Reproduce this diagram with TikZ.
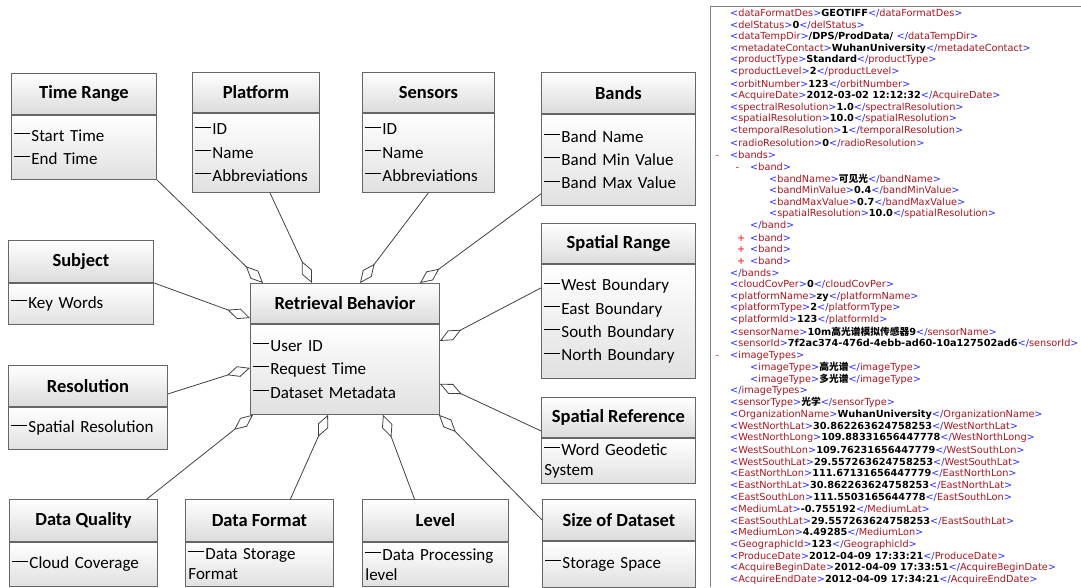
\documentclass[tikz,border=0pt]{standalone}
\usepackage{fontspec}
\setmainfont{Carlito}
\newfontfamily\xmlfont{DejaVu Sans}
\newfontfamily\cjk{Noto Sans CJK SC}
\usetikzlibrary{arrows.meta}
\definecolor{xblue}{RGB}{40,40,255}
\definecolor{xred}{RGB}{170,20,30}
\definecolor{edge}{RGB}{64,64,64}
\tikzset{
  head/.style={draw=black!60, line width=0.9pt, top color=white, bottom color=black!14, inner sep=0pt, anchor=north west, font=\fontsize{18.5}{22}\selectfont\bfseries},
  body/.style={draw=black!60, line width=0.9pt, top color=white, bottom color=black!12, inner xsep=3pt, inner ysep=0pt, anchor=north, align=left, font=\fontsize{17}{23.3}\selectfont},
  agg/.style={draw=edge, line width=0.8pt, -{Diamond[open, length=24pt, width=11pt]}},
  xline/.style={anchor=west, inner sep=0pt, font=\xmlfont\fontsize{9.75}{11}\selectfont},
}
\newcommand\itm{\rule[7.5pt]{16pt}{0.8pt}\hspace{1pt}}
\newcommand\umlclass[8]{%
  \pgfmathsetmacro\tw{#4-6}
  \node[head, minimum width=#4pt, minimum height=#5pt] (#1) at (#2,#3) {#7};
  \node[body, minimum width=#4pt, minimum height=#6pt, text width=\tw pt] (#1-b) at (#1.south) {#8};
}
\newcommand\xopen[1]{\textcolor{xblue}{<}\textcolor{xred}{#1}\textcolor{xblue}{>}}
\newcommand\xclose[1]{\textcolor{xblue}{</}\textcolor{xred}{#1}\textcolor{xblue}{>}}
\newcommand\xtag[2]{\xopen{#1}\textbf{#2}\xclose{#1}}
\newcommand\xm{\llap{\textcolor{red}{-}\hspace{11pt}}}
\newcommand\xp{\llap{\textcolor{red}{+}\hspace{5pt}}}
\begin{document}
\begin{tikzpicture}[x=1pt, y=-1pt]
  \useasboundingbox (0,0) rectangle (1081,587);
  % classes
  \umlclass{tr}{11}{73}{145}{41}{64}{Time Range}{\itm Start Time\\\itm End Time}
  \umlclass{pf}{192}{72}{127}{40}{79}{Platform}{\itm ID\\\itm Name\\\itm Abbreviations}
  \umlclass{sn}{362}{72}{132}{40}{79}{Sensors}{\itm ID\\\itm Name\\\itm Abbreviations}
  \umlclass{bd}{541}{72}{154}{41}{91}{Bands}{\itm Band Name\\\itm Band Min Value\\\itm Band Max Value}
  \umlclass{sj}{8}{240}{145}{42}{41}{Subject}{\itm Key Words}
  \umlclass{rs}{8}{365}{159}{41}{42}{Resolution}{\itm Spatial Resolution}
  \umlclass{rb}{250}{283}{189}{40}{90}{Retrieval Behavior}{\itm User ID\\\itm Request Time\\\itm Dataset Metadata}
  \umlclass{sr}{541}{223}{154}{40}{114}{Spatial Range}{\itm West Boundary\\\itm East Boundary\\\itm South Boundary\\\itm North Boundary}
  \umlclass{sf}{541}{397}{154}{40}{45}{Spatial Reference}{\itm Word Geodetic\\[-3pt]System}
  \umlclass{dq}{9}{499}{148}{42}{44}{Data Quality}{\itm Cloud Coverage}
  \umlclass{df}{185}{499}{148}{42}{44}{Data Format}{\itm Data Storage\\[-3pt]Format}
  \umlclass{lv}{362}{499}{146}{42}{44}{Level}{\itm Data Processing\\[-3pt]level}
  \umlclass{sd}{542}{499}{153}{41}{46}{Size of Dataset}{\itm Storage Space}
  % aggregations
  \draw[agg] (tr-b.south east) -- ([xshift=13pt]rb.north west);
  \draw[agg] ([xshift=14pt]pf-b.south) -- ([xshift=62pt]rb.north west);
  \draw[agg] (sn-b.south) -- ([xshift=110pt]rb.north west);
  \draw[agg] ([yshift=12pt]bd-b.south west) -- ([xshift=170pt]rb.north west);
  \draw[agg] (sj.south east) -- ([yshift=-35pt]rb.north west);
  \draw[agg] ([yshift=-8pt]rs.east) -- ([yshift=-44pt]rb-b.north west);
  \draw[agg] ([yshift=-24pt]sr-b.north west) -- ([yshift=-17pt]rb-b.north east);
  \draw[agg] ([yshift=7pt]sf.south west) -- ([yshift=-60pt]rb-b.north east);
  \draw[agg] ([xshift=-11pt]dq.north east) -- ([xshift=3pt]rb-b.south west);
  \draw[agg] ([xshift=31pt]df.north) -- ([xshift=78pt]rb-b.south west);
  \draw[agg] ([xshift=-21pt]lv.north) -- ([xshift=133pt]rb-b.south west);
  \draw[agg] (sd.west) -- ([xshift=-1pt]rb-b.south east);
  % xml listing
  \draw[black!50, line width=0.9pt] (710,587) -- (710,6) -- (1081,6);
  \foreach \ind/\txt [count=\i] in {
    730/{\xtag{dataFormatDes}{GEOTIFF}},
    730/{\xtag{delStatus}{0}},
    730/{\xtag{dataTempDir}{/DPS/ProdData/ }},
    730/{\xtag{metadateContact}{WuhanUniversity}},
    730/{\xtag{productType}{Standard}},
    730/{\xtag{productLevel}{2}},
    730/{\xtag{orbitNumber}{123}},
    730/{\xtag{AcquireDate}{2012-03-02 12:12:32}},
    730/{\xtag{spectralResolution}{1.0}},
    730/{\xtag{spatialResolution}{10.0}},
    730/{\xtag{temporalResolution}{1}},
    730/{\xtag{radioResolution}{0}},
    730/{\xm\xopen{bands}},
    750/{\xm\xopen{band}},
    769/{\xtag{bandName}{\cjk 可见光}},
    769/{\xtag{bandMinValue}{0.4}},
    769/{\xtag{bandMaxValue}{0.7}},
    769/{\xtag{spatialResolution}{10.0}},
    750/{\xclose{band}},
    750/{\xp\xopen{band}},
    750/{\xp\xopen{band}},
    750/{\xp\xopen{band}},
    730/{\xclose{bands}},
    730/{\xtag{cloudCovPer}{0}},
    730/{\xtag{platformName}{zy}},
    730/{\xtag{platformType}{2}},
    730/{\xtag{platformId}{123}},
    730/{\xtag{sensorName}{10m{\cjk 高光谱模拟传感器}9}},
    730/{\xtag{sensorId}{7f2ac374-476d-4ebb-ad60-10a127502ad6}},
    730/{\xm\xopen{imageTypes}},
    750/{\xtag{imageType}{\cjk 高光谱}},
    750/{\xtag{imageType}{\cjk 多光谱}},
    730/{\xclose{imageTypes}},
    730/{\xtag{sensorType}{\cjk 光学}},
    730/{\xtag{OrganizationName}{WuhanUniversity}},
    730/{\xtag{WestNorthLat}{30.862263624758253}},
    730/{\xtag{WestNorthLong}{109.88331656447778}},
    730/{\xtag{WestSouthLon}{109.76231656447779}},
    730/{\xtag{WestSouthLat}{29.557263624758253}},
    730/{\xtag{EastNorthLon}{111.67131656447779}},
    730/{\xtag{EastNorthLat}{30.862263624758253}},
    730/{\xtag{EastSouthLon}{111.5503165644778}},
    730/{\xtag{MediumLat}{-0.755192}},
    730/{\xtag{EastSouthLat}{29.557263624758253}},
    730/{\xtag{MediumLon}{4.49285}},
    730/{\xtag{GeographicId}{123}},
    730/{\xtag{ProduceDate}{2012-04-09 17:33:21}},
    730/{\xtag{AcquireBeginDate}{2012-04-09 17:33:51}},
    730/{\xtag{AcquireEndDate}{2012-04-09 17:34:21}}}
    \node[xline] (x\i) at (\ind, {13+(\i-1)*11.81}) {\txt};
\end{tikzpicture}
\end{document}
